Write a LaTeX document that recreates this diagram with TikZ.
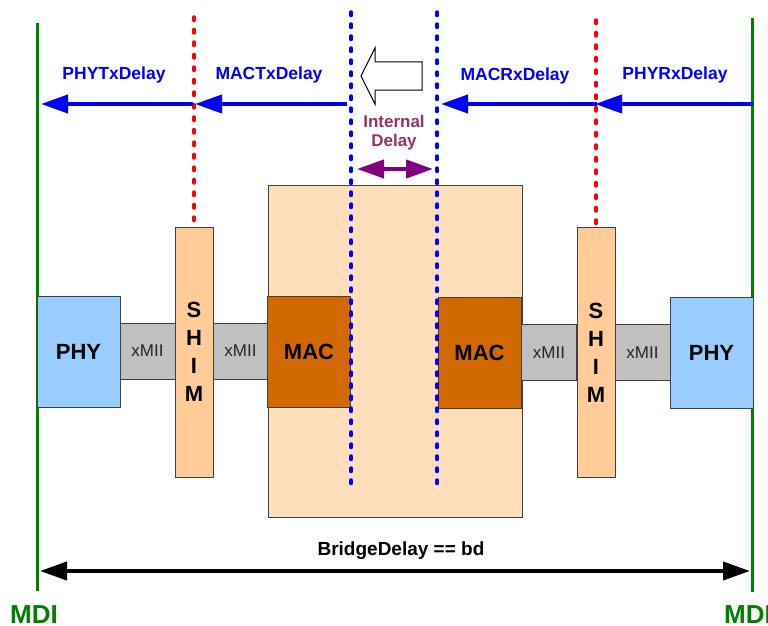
\documentclass[tikz,border=0pt]{standalone}
\usepackage{fontspec}
\setmainfont{Liberation Sans}
\usetikzlibrary{arrows.meta}
\definecolor{mdigreen}{RGB}{0,128,0}
\definecolor{dblue}{RGB}{0,0,255}
\definecolor{dred}{RGB}{255,0,0}
\definecolor{intpurple}{RGB}{153,51,102}
\definecolor{arrpurple}{RGB}{128,0,128}
\definecolor{peach}{RGB}{255,222,187}
\definecolor{shimc}{RGB}{255,204,153}
\definecolor{macc}{RGB}{210,105,0}
\definecolor{phyc}{RGB}{153,204,255}
\definecolor{xmiic}{RGB}{192,192,192}
\definecolor{edgec}{RGB}{64,64,64}
\begin{document}
\begin{tikzpicture}[x=1pt,y=-1pt,
  blk/.style={draw=edgec,line width=1pt,inner sep=0pt,font=\fontsize{22}{26}\selectfont\bfseries},
  phybox/.style={blk,fill=phyc,minimum width=83,minimum height=111},
  macbox/.style={blk,fill=macc,minimum width=83,minimum height=111},
  shimbox/.style={blk,fill=shimc,minimum width=38,minimum height=250,align=center,font=\fontsize{22}{28}\selectfont\bfseries},
  xmiibox/.style={blk,fill=xmiic,minimum width=55,minimum height=56,font=\fontsize{17}{20}\selectfont,text=black!85},
  bigbox/.style={draw=edgec,line width=1pt,fill=peach,minimum width=254,minimum height=332},
  mdiline/.style={draw=mdigreen,line width=3pt},
  reddots/.style={draw=dred,line width=3.5pt,line cap=round,dash pattern=on 3.5pt off 9pt},
  bluedots/.style={draw=dblue,line width=3.5pt,line cap=round,dash pattern=on 3.5pt off 8.5pt},
  delayarrow/.style={draw=dblue,line width=4pt,-{Triangle[length=27pt,width=18pt]}},
  lbl/.style={text=dblue,font=\fontsize{17.5}{20}\selectfont\bfseries,anchor=base,inner sep=0pt},
  intlbl/.style={text=intpurple,font=\fontsize{17}{19}\selectfont\bfseries,align=center,inner sep=0pt},
  intarrow/.style={draw=arrpurple,line width=4pt,{Triangle[length=27pt,width=18pt]}-{Triangle[length=27pt,width=18pt]}},
  bdarrow/.style={draw=black,line width=4pt,{Triangle[length=27pt,width=18pt]}-{Triangle[length=27pt,width=18pt]}},
  bdlbl/.style={font=\fontsize{19}{22}\selectfont\bfseries,anchor=base,inner sep=0pt},
  mdilbl/.style={text=mdigreen,font=\fontsize{26}{30}\selectfont\bfseries,anchor=base west,inner sep=0pt}
]
\useasboundingbox (0,0) rectangle (768,626);

% MDI lines
\coordinate (gLt) at (37,23);
\coordinate (gLb) at (37,591);
\coordinate (gRt) at (752,18);
\coordinate (gRb) at (752,592);
\draw[mdiline] (gLt) -- (gLb);
\draw[mdiline] (gRt) -- (gRb);

% big bridge box
\node[bigbox] (bridge) at (395,351) {};

% blocks
\node[phybox] (phyL) at (78.5,352) {PHY};
\node[xmiibox] (xm1) at (147.5,351) {xMII};
\node[shimbox] (shimL) at (194,352) {S\\H\\I\\M};
\node[xmiibox] (xm2) at (240.5,351) {xMII};
\node[macbox] (macL) at (309,352) {MAC};
\node[macbox] (macR) at (479.5,352.5) {MAC};
\node[xmiibox] (xm3) at (549,352.5) {xMII};
\node[shimbox] (shimR) at (596,352.5) {S\\H\\I\\M};
\node[xmiibox] (xm4) at (642.5,352.5) {xMII};
\node[phybox] (phyR) at (711.5,352.5) {PHY};

% red dotted shim lines
\coordinate (rL) at (194,17);
\coordinate (rR) at (596,20);
\draw[reddots] (rL) -- (shimL.north);
\draw[reddots] (rR) -- (shimR.north);

% blue dotted MAC lines
\coordinate (bLt) at (351,12);
\coordinate (bLb) at (351,490);
\coordinate (bRt) at (437,12);
\coordinate (bRb) at (437,490);
\draw[bluedots] (bLt) -- (bLb);
\draw[bluedots] (bRt) -- (bRb);

% delay arrows
\coordinate (aMacL) at (347,104);
\coordinate (aShimL) at (195,104);
\coordinate (aShimL2) at (193,104);
\coordinate (aPhyL) at (41,104);
\coordinate (aPhyR) at (753,104);
\coordinate (aShimR) at (595,104);
\coordinate (aShimR2) at (597,104);
\coordinate (aMacR) at (441,104);
\draw[delayarrow] (aMacL) -- (aShimL);
\draw[delayarrow] (aShimL2) -- (aPhyL);
\draw[delayarrow] (aPhyR) -- (aShimR);
\draw[delayarrow] (aShimR2) -- (aMacR);

\node[lbl] (lPhyTx) at (114,80) {PHYTxDelay};
\node[lbl] (lMacTx) at (269,80) {MACTxDelay};
\node[lbl] (lMacRx) at (515,81) {MACRxDelay};
\node[lbl] (lPhyRx) at (675,80) {PHYRxDelay};

% hollow direction arrow
\draw[black,line width=1pt,fill=white,line join=miter]
  (361,76) -- (375,48) -- (375,62) -- (422,62) -- (422,90) -- (375,90) -- (375,104) -- cycle;

% internal delay
\node[intlbl] (intl) at (394,133) {Internal\\Delay};
\coordinate (iL) at (357,169);
\coordinate (iR) at (433,169);
\draw[intarrow] (iL) -- (iR);

% bridge delay
\coordinate (bdL) at (40,571);
\coordinate (bdR) at (750,571);
\draw[bdarrow] (bdL) -- (bdR);
\node[bdlbl] (bdl) at (401,555) {BridgeDelay == bd};

% MDI labels
\node[mdilbl] (mdiL) at (10,623) {MDI};
\node[mdilbl] (mdiR) at (724,623) {MDI};
\end{tikzpicture}
\end{document}
